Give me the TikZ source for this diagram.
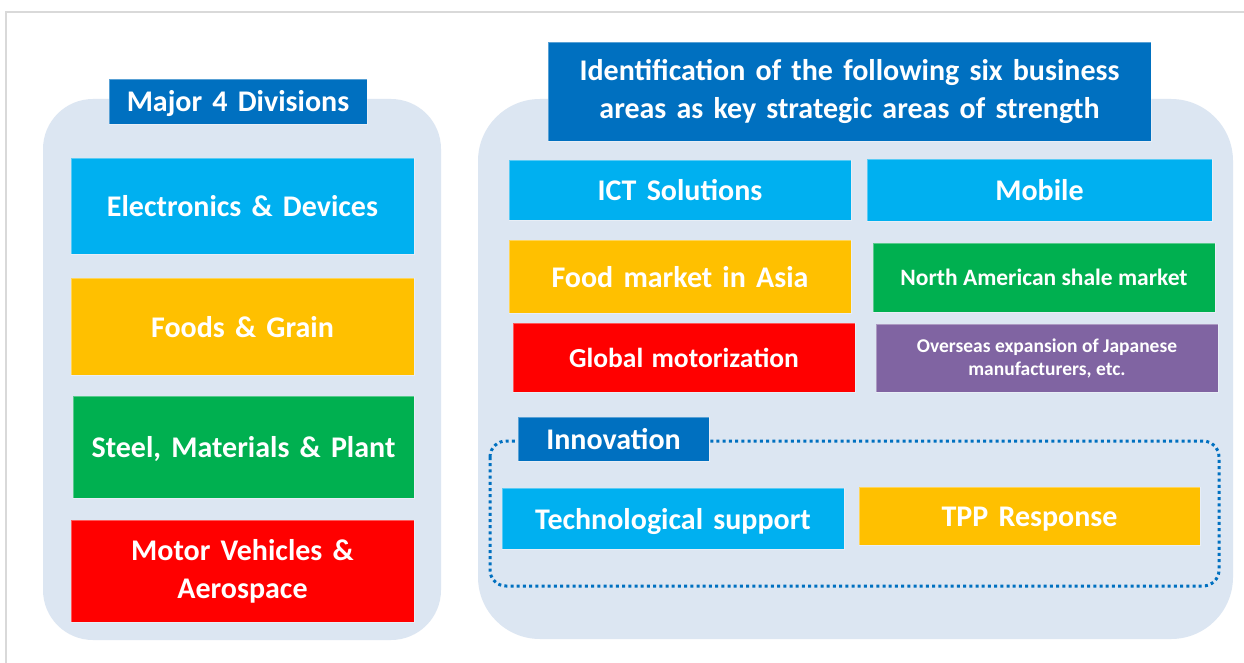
\documentclass[tikz,border=0pt]{standalone}
\usepackage{fontspec}
\setmainfont{Carlito}
\definecolor{panel}{HTML}{DCE6F2}
\definecolor{headblue}{HTML}{0070C0}
\definecolor{skyblue}{HTML}{00B0F0}
\definecolor{amber}{HTML}{FFC000}
\definecolor{leaf}{HTML}{00B050}
\definecolor{signal}{HTML}{FF0000}
\definecolor{plum}{HTML}{8064A2}
\definecolor{framegray}{HTML}{D9D9D9}
% label fonts with slightly wider word spaces
\newcommand{\bigtilefont}{\bfseries\fontsize{30}{38}\selectfont\spaceskip=10.2pt\relax}
\newcommand{\midtilefont}{\bfseries\fontsize{27.5}{32}\selectfont\spaceskip=8.3pt\relax}
\begin{document}
\begin{tikzpicture}[x=1pt,y=-1pt,
  panelbox/.style={fill=panel,draw=none},
  tilebase/.style={draw=white,draw opacity=0.35,line width=0.8pt,text=white,
    font=\bigtilefont,align=center,inner sep=0pt},
  % single-line labels: fixed height/depth so that capitals sit on the middle
  tile/.style={tilebase,text height=24pt,text depth=3pt},
  twoline/.style={tilebase},
  smalltile/.style={tilebase,font=\bfseries\fontsize{23.5}{28}\selectfont,text height=18.8pt,text depth=2.4pt},
  midtile/.style={tilebase,font=\midtilefont,text height=22pt,text depth=2.8pt},
  tinytile/.style={tilebase,font=\bfseries\fontsize{19.5}{23}\selectfont},
  dotframe/.style={draw=headblue,line width=3pt,dash pattern=on 3pt off 3.2pt,rounded corners=16pt}]
\useasboundingbox (0,0) rectangle (1244,663);
\fill[white] (0,0) rectangle (1244,663);
% outer frame
\draw[framegray,line width=1.5pt] (6,663) -- (6,12) -- (1244,12);

% background panels
\fill[panelbox,rounded corners=50pt] (43,99) rectangle (441,640);
\fill[panelbox,rounded corners=62pt] (478,99) rectangle (1233,639);

% left column
\node[tile,fill=headblue,minimum width=258,minimum height=45] (major) at (238,101.5) {Major 4 Divisions};
\node[tile,fill=skyblue,minimum width=343,minimum height=96] (elec) at (242.5,206) {Electronics \& Devices};
\node[tile,fill=amber,minimum width=343,minimum height=97] (food) at (242.5,326.5) {Foods \& Grain};
\node[tile,fill=leaf,minimum width=341,minimum height=102] (steel) at (243.5,447) {Steel, Materials \& Plant};
\node[twoline,fill=signal,minimum width=343,minimum height=102] (motor) at (242.5,571) {Motor Vehicles \&\\Aerospace};

% right column
\node[twoline,fill=headblue,minimum width=603,minimum height=99] (title) at (849.5,91.5)
  {Identification of the following six business\\areas as key strategic areas of strength};
\node[tile,fill=skyblue,minimum width=342,minimum height=60] (ict) at (680,190) {ICT Solutions};
\node[tile,fill=skyblue,minimum width=345,minimum height=62] (mobile) at (1039.5,190) {Mobile};
\node[tile,fill=amber,minimum width=342,minimum height=73] (asia) at (680,276.5) {Food market in Asia};
\node[smalltile,fill=leaf,minimum width=342,minimum height=69] (shale) at (1044,277.5) {North American shale market};
\node[midtile,fill=signal,minimum width=342,minimum height=69] (motorize) at (684,357.5) {Global motorization};
\node[tinytile,fill=plum,minimum width=342,minimum height=68] (overseas) at (1047,358)
  {Overseas expansion of Japanese\\manufacturers, etc.};

% innovation group
\draw[dotframe] (490,441) rectangle (1219,586);
\node[tile,fill=headblue,minimum width=191,minimum height=44] (innov) at (613.5,439) {Innovation};
\node[tile,fill=skyblue,minimum width=342,minimum height=61] (tech) at (673,518.5) {Technological support};
\node[tile,fill=amber,minimum width=341,minimum height=58] (tpp) at (1029.5,516) {TPP Response};
\end{tikzpicture}
\end{document}
